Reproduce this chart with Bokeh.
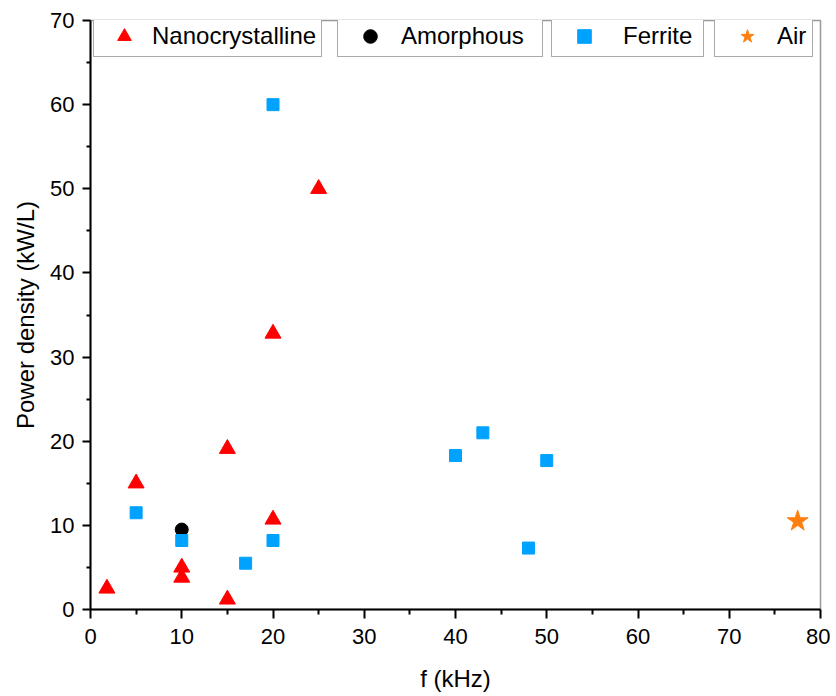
from bokeh.plotting import figure
from bokeh.models import Legend, LegendItem, FixedTicker, Range1d
from bokeh.embed import file_html
from bokeh.resources import INLINE

# Data
nano_f = [1.8, 5, 10, 10, 15, 15, 20, 20, 25]
nano_p = [2.5, 15.0, 5.0, 3.8, 19.1, 1.2, 32.8, 10.7, 50.0]
amor_f = [10]
amor_p = [9.5]
ferr_f = [5, 10, 17, 20, 20, 40, 43, 48, 50]
ferr_p = [11.5, 8.2, 5.5, 8.2, 60.0, 18.3, 21.0, 7.3, 17.7]
air_f = [77.5]
air_p = [10.5]

x_ticks = [0, 10, 20, 30, 40, 50, 60, 70, 80]
y_ticks = [0, 10, 20, 30, 40, 50, 60, 70]

FONT = "Liberation Sans"

p = figure(width=830, height=696, output_backend="svg", toolbar_location=None,
           x_range=Range1d(0, 80), y_range=Range1d(0, 70),
           min_border_left=90, min_border_right=10, min_border_top=20, min_border_bottom=87)
p.grid.visible = False
p.outline_line_color = "#999999"
p.outline_line_width = 1.5

r_nano = p.scatter(nano_f, nano_p, marker="triangle", size=16, color="#FF0000")
r_amor = p.scatter(amor_f, amor_p, marker="circle", size=13, color="#000000")
r_ferr = p.scatter(ferr_f, ferr_p, marker="square", size=12, color="#00A2FF")
r_air = p.scatter(air_f, air_p, marker="star", size=22, color="#FF7F0E")

for ax, ticks in ((p.xaxis[0], x_ticks), (p.yaxis[0], y_ticks)):
    ax.ticker = FixedTicker(ticks=ticks, minor_ticks=[v + 5 for v in ticks[:-1]])
    ax.axis_line_color = "black"
    ax.axis_line_width = 2
    ax.major_tick_line_width = 2
    ax.minor_tick_line_width = 2
    ax.major_tick_line_color = "black"
    ax.minor_tick_line_color = "black"
    ax.major_tick_in = 0
    ax.minor_tick_in = 0
    ax.major_label_text_font = FONT
    ax.major_label_text_font_size = "22px"
    ax.major_label_text_color = "black"
    ax.axis_label_text_font = FONT
    ax.axis_label_text_font_size = "24px"
    ax.axis_label_text_font_style = "normal"
    ax.axis_label_text_color = "black"

p.xaxis.major_tick_out = 9
p.xaxis.minor_tick_out = 5
p.yaxis.major_tick_out = 8
p.yaxis.minor_tick_out = 4
p.xaxis.major_label_standoff = 10
p.yaxis.major_label_standoff = 8
p.xaxis.axis_label = "f (kHz)"
p.yaxis.axis_label = "Power density (kW/L)"
p.xaxis.axis_label_standoff = 18
p.yaxis.axis_label_standoff = 8

# four separate legend boxes along the top, as in the reference
specs = [
    ("Nanocrystalline", r_nano, 3, 54, 1, 166),
    ("Amorphous", r_amor, 247, 58, 2, 138),
    ("Ferrite", r_ferr, 461, 58, 10, 77),
    ("Air", r_air, 624, 58, 1, 32),
]
for label, rend, xpos, gw, stand, lw in specs:
    lg = Legend(items=[LegendItem(label=label, renderers=[rend])],
                location=(xpos, 552), orientation="horizontal",
                padding=3, margin=0, spacing=0,
                glyph_width=gw, glyph_height=34, label_height=24,
                label_standoff=stand, label_width=lw,
                label_text_font=FONT, label_text_font_size="24px",
                label_text_color="black",
                border_line_color="#555555", border_line_width=1.5,
                background_fill_color="white", background_fill_alpha=1.0)
    p.add_layout(lg, "center")

open("out.html", "w").write(file_html(p, INLINE))
